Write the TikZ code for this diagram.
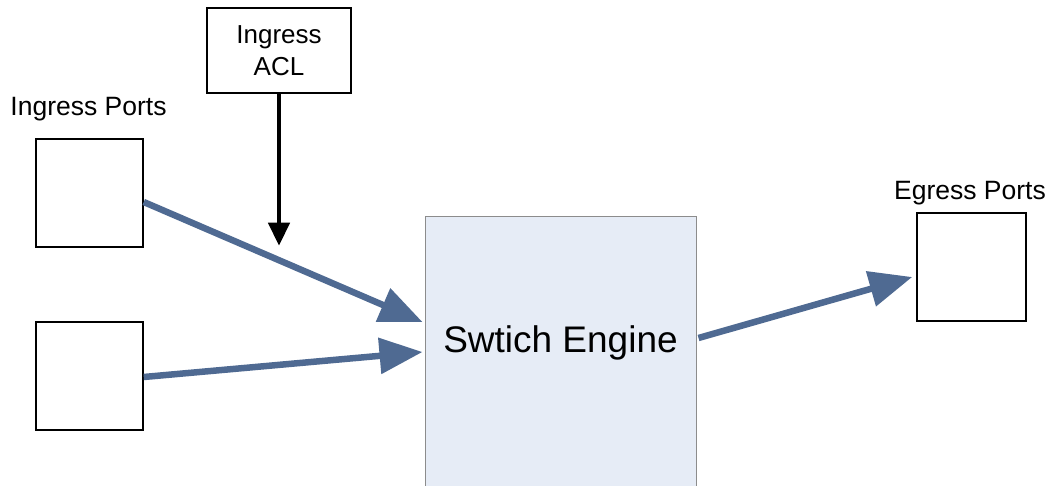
\documentclass[tikz,border=0pt]{standalone}
\usepackage{fontspec}
\setmainfont{Liberation Sans}
\usetikzlibrary{arrows.meta,calc}
\definecolor{arrowblue}{RGB}{79,106,146}
\definecolor{enginefill}{RGB}{230,236,246}
\definecolor{enginedraw}{RGB}{140,140,140}
\begin{document}
\begin{tikzpicture}[x=1pt,y=-1pt,
  portbox/.style={draw=black, line width=1.5pt, fill=white, minimum width=107pt, minimum height=108pt, inner sep=0pt},
  aclbox/.style={draw=black, line width=1.5pt, fill=white, minimum width=144pt, minimum height=85pt, align=center, font=\fontsize{26}{32}\selectfont, inner sep=0pt},
  enginebox/.style={draw=enginedraw, line width=1pt, fill=enginefill, minimum width=271pt, minimum height=273pt, inner sep=0pt},
  lbl/.style={font=\fontsize{26.5}{31}\selectfont, anchor=base, inner sep=0pt},
  bluearrow/.style={draw=arrowblue, line width=6.5pt, -{Triangle[length=43pt,width=35pt]}},
  blackarrow/.style={draw=black, line width=4.5pt, -{Triangle[length=23pt,width=21pt]}}]
\useasboundingbox (0,0) rectangle (1049,486);
\clip (0,0) rectangle (1049,486);
\node[enginebox] (eng) at (560.5,353.5) {};
\node[font=\fontsize{37}{44}\selectfont, anchor=base, inner sep=0pt] (engtxt) at ($(eng.north)+(0,136)$) {Swtich Engine};
\node[aclbox] (acl) at (279,50.5) {Ingress\\ACL};
\node[portbox] (p1) at (89.5,193) {};
\node[portbox] (p2) at (89.5,376) {};
\node[portbox, minimum width=109pt] (eg) at (971.5,267) {};
\node[lbl] (inlbl) at (88.5,116) {Ingress Ports};
\node[lbl] (eglbl) at (970,200) {Egress Ports};
\draw[blackarrow] (acl.south) -- ($(acl.south)+(0,152)$);
\draw[bluearrow] ($(p1.east)+(0,9)$) -- ($(eng.west)+(-2,-31.5)$);
\draw[bluearrow] ($(p2.east)+(0,1)$) -- ($(eng.west)+(-2,-1.5)$);
\draw[bluearrow] ($(eng.east)+(2,-15.5)$) -- ($(eg.west)+(-4,10)$);
\end{tikzpicture}
\end{document}
